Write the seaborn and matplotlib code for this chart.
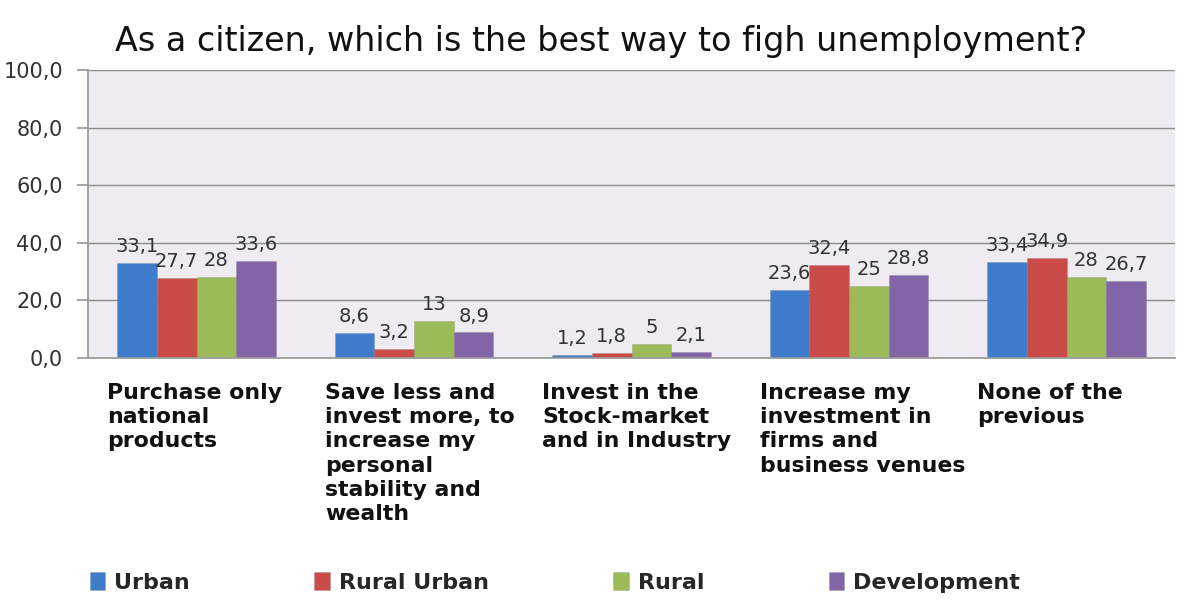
import matplotlib
matplotlib.use("Agg")
import matplotlib.pyplot as plt
import seaborn as sns
import pandas as pd
from matplotlib.ticker import FuncFormatter, MultipleLocator

categories = [
    "Purchase only\nnational\nproducts",
    "Save less and\ninvest more, to\nincrease my\npersonal\nstability and\nwealth",
    "Invest in the\nStock-market\nand in Industry",
    "Increase my\ninvestment in\nfirms and\nbusiness venues",
    "None of the\nprevious",
]
series = ["Urban", "Rural Urban", "Rural", "Development"]
urban = [33.1, 8.6, 1.2, 23.6, 33.4]
rural_urban = [27.7, 3.2, 1.8, 32.4, 34.9]
rural = [28, 13, 5, 25, 28]
development = [33.6, 8.9, 2.1, 28.8, 26.7]
colors = ["#3F7CCB", "#CB4B48", "#9BBB59", "#8264A8"]

rows = []
for name, vals in zip(series, [urban, rural_urban, rural, development]):
    for cat, v in zip(categories, vals):
        rows.append({"category": cat, "series": name, "value": v})
df = pd.DataFrame(rows)

sns.set_theme(style="white")
plt.rcParams["font.family"] = ["DejaVu Sans"]

fig = plt.figure(figsize=(12.03, 6.08), dpi=100)
ax = fig.add_axes([0.073, 0.411, 0.904, 0.474])
ax.set_facecolor("#EEEBF1")

sns.barplot(data=df, x="category", y="value", hue="series", palette=colors,
            order=categories, hue_order=series, width=0.73, saturation=1,
            edgecolor="#55555530", linewidth=0.6, ax=ax, legend=True)

ax.set_ylim(0, 100)
ax.set_xlim(-0.5, 4.5)
ax.yaxis.set_major_locator(MultipleLocator(20))
ax.yaxis.set_major_formatter(FuncFormatter(lambda v, p: f"{v:.1f}".replace(".", ",")))
ax.grid(axis="y", color="#8C8C8C", linewidth=1.0)
ax.set_axisbelow(True)
for s in ["top", "right"]:
    ax.spines[s].set_visible(False)
ax.spines["left"].set_color("#9A9A9A")
ax.spines["bottom"].set_color("#9A9A9A")
ax.tick_params(axis="y", length=8, color="#9A9A9A", labelsize=15, labelcolor="#333333", pad=10, left=True)
ax.tick_params(axis="x", length=0)
ax.set_xticklabels([])
ax.set_xlabel("")
ax.set_ylabel("")

for cont in ax.containers:
    labels = [f"{b.get_height():g}".replace(".", ",") for b in cont]
    ax.bar_label(cont, labels=labels, padding=5, fontsize=14, color="#333333")

for i, cat in enumerate(categories):
    ax.text(i - 0.41, -0.085, cat, transform=ax.get_xaxis_transform(),
            ha="left", va="top", fontsize=15.8, fontweight="bold",
            color="#111111", linespacing=1.27)

fig.text(0.5, 0.932, "As a citizen, which is the best way to figh unemployment?",
         ha="center", va="center", fontsize=24, color="#111111")

handles, labels = ax.get_legend_handles_labels()
ax.legend_.remove()
fig.legend(handles, labels, loc="center left", bbox_to_anchor=(0.058, 0.042),
           ncol=4, frameon=False, handlelength=0.7, handleheight=0.9,
           handletextpad=0.4, columnspacing=5.6,
           prop={"weight": "bold", "size": 16})

fig.savefig("out.png", dpi=100, facecolor="white")
